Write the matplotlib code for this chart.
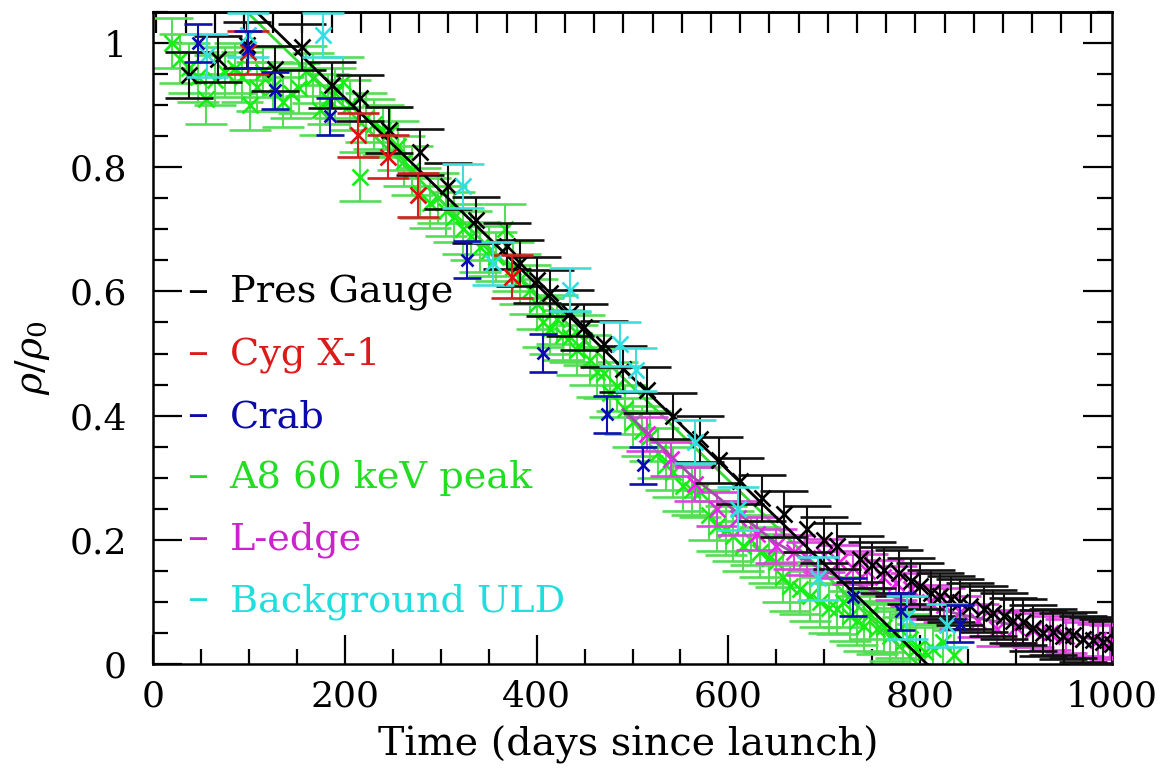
import numpy as np
import matplotlib
matplotlib.use("Agg")
import matplotlib.pyplot as plt

plt.rcParams["font.family"] = ["DejaVu Serif"]
plt.rcParams["mathtext.fontset"] = "dejavuserif"

# ---- Pressure gauge ----
gauge_t = [37, 68, 98, 127, 155, 187, 216, 246, 278, 308, 337, 369, 383, 400,
           414, 435, 449, 470, 490, 515, 542, 570, 590, 612, 635, 658, 682, 700,
           713, 737, 750, 762, 778, 790, 800, 811, 821, 832, 842, 852, 866, 876,
           887, 897, 907, 918, 928, 938, 949, 959, 970, 980, 991, 1000]
gauge_r = [0.949, 0.975, 0.997, 0.959, 0.994, 0.932, 0.911, 0.860, 0.825, 0.770,
           0.715, 0.673, 0.646, 0.619, 0.598, 0.566, 0.543, 0.515, 0.475, 0.442,
           0.399, 0.362, 0.328, 0.295, 0.268, 0.241, 0.217, 0.200, 0.190, 0.169,
           0.160, 0.152, 0.147, 0.133, 0.126, 0.115, 0.109, 0.104, 0.100, 0.093,
           0.088, 0.082, 0.077, 0.070, 0.067, 0.058, 0.050, 0.052, 0.045, 0.046,
           0.040, 0.038, 0.035, 0.032]
gauge_err = 0.037

# ---- Cyg X-1 ----
cyg_t = [99, 214, 245, 276, 374]
cyg_r = [0.985, 0.852, 0.817, 0.755, 0.624]
cyg_err = 0.035

# ---- Crab ----
crab_t = [47, 99, 127, 185, 327, 407, 473, 511, 730, 780, 842]
crab_r = [1.000, 0.990, 0.924, 0.882, 0.651, 0.501, 0.402, 0.320, 0.108, 0.085, 0.065]
crab_err = 0.03

# ---- A8 60 keV peak ----
a8_t = [20, 28, 38, 47, 55, 65, 75, 85, 93, 101, 108, 115, 125, 136, 144, 152,
        160, 167, 174, 182, 190, 198, 205, 216, 222, 230, 240, 247, 255, 262,
        270, 278, 289, 297, 305, 314, 323, 332, 341, 350, 358, 367, 375, 383,
        393, 400, 407, 414, 421, 428, 435, 442, 449, 456, 463, 470, 477, 484,
        492, 501, 510, 518, 527, 535, 542, 553, 562, 570, 580, 588, 597, 605,
        615, 624, 633, 642, 650, 657, 664, 675, 685, 696, 705, 713, 720, 727,
        734, 741, 748, 755, 762, 768, 775, 782, 789, 796, 805, 813, 824, 835]
a8_r = [1.000, 0.975, 0.960, 0.945, 0.910, 0.940, 0.953, 0.960, 0.945, 0.900,
        0.930, 0.953, 0.930, 0.905, 0.920, 0.928, 0.955, 0.944, 0.892, 0.910,
        0.920, 0.937, 0.900, 0.785, 0.880, 0.870, 0.860, 0.857, 0.835, 0.810,
        0.795, 0.758, 0.742, 0.750, 0.730, 0.720, 0.700, 0.690, 0.672, 0.665,
        0.656, 0.700, 0.640, 0.620, 0.603, 0.580, 0.550, 0.540, 0.555, 0.530,
        0.527, 0.506, 0.522, 0.490, 0.470, 0.469, 0.437, 0.447, 0.410, 0.389,
        0.375, 0.367, 0.340, 0.320, 0.309, 0.286, 0.280, 0.277, 0.240, 0.222,
        0.215, 0.206, 0.190, 0.200, 0.180, 0.170, 0.164, 0.140, 0.125, 0.120,
        0.110, 0.100, 0.090, 0.088, 0.100, 0.077, 0.070, 0.061, 0.080, 0.056,
        0.060, 0.045, 0.050, 0.035, 0.040, 0.024, 0.020, 0.024, 0.035, 0.015]
a8_err = 0.04

# ---- L-edge ----
ledge_t = [515, 540, 565, 588, 610, 630, 650, 668, 682, 700, 715, 730, 745, 761,
           775, 790, 810, 825, 842, 860, 880, 900, 918, 935, 952, 970, 985, 998]
ledge_r = [0.370, 0.330, 0.290, 0.250, 0.235, 0.210, 0.190, 0.180, 0.170, 0.175,
           0.165, 0.155, 0.150, 0.140, 0.130, 0.120, 0.100, 0.095, 0.083, 0.070,
           0.056, 0.060, 0.055, 0.050, 0.045, 0.040, 0.038, 0.035]
ledge_err = 0.027

# ---- Background ULD ----
uld_t = [56, 99, 177, 323, 355, 435, 487, 504, 565, 610, 693, 786, 828]
uld_r = [0.980, 1.013, 1.013, 0.770, 0.645, 0.603, 0.515, 0.474, 0.358, 0.250,
         0.138, 0.075, 0.062]
uld_err = 0.035

# ---- Fitted trends ----
gauge_fit_t = [108, 807]
gauge_fit_r = [1.05, 0.0]
a8_fit_t = [98, 797]
a8_fit_r = [1.05, 0.0]
ledge_fit_t = [490, 520, 560, 600, 650, 700, 750, 800, 850, 900, 950, 1000]
ledge_fit_r = [0.410, 0.365, 0.305, 0.255, 0.195, 0.150, 0.118, 0.095, 0.077,
               0.062, 0.048, 0.035]

legend_names = ["Pres Gauge", "Cyg X-1", "Crab", "A8 60 keV peak", "L-edge",
                "Background ULD"]
legend_colors = ["#000000", "#dd1a1a", "#0a0aaa", "#22dd22", "#cc22cc", "#22dddd"]

x_ticks = [0, 200, 400, 600, 800, 1000]
y_ticks = [0, 0.2, 0.4, 0.6, 0.8, 1.0]
y_tick_labels = ["0", "0.2", "0.4", "0.6", "0.8", "1"]

fig = plt.figure(figsize=(11.61, 7.70), dpi=100)
ax = fig.add_axes([0.1318, 0.1377, 0.8260, 0.8467])


def series(t, r, err, mcol, ecol, cap=16, ms=12, z=3):
    ax.errorbar(t, r, yerr=err, fmt="x", color=mcol, ecolor=ecol,
                elinewidth=1.5, capsize=cap, capthick=1.5, ms=ms, mew=1.9,
                zorder=z)


series(a8_t, a8_r, a8_err, "#14f014", "#55dd55", cap=15, z=2)
ax.plot(a8_fit_t, a8_fit_r, color="#33dd33", lw=2.0, zorder=2.5)
series(ledge_t, ledge_r, ledge_err, "#ee22ee", "#dd44dd", cap=15, z=3)
ax.plot(ledge_fit_t, ledge_fit_r, color="#a050a8", lw=2.0, zorder=3.5)
series(gauge_t, gauge_r, gauge_err, "#000000", "#111111", cap=17, z=4)
ax.plot(gauge_fit_t, gauge_fit_r, color="#000000", lw=2.0, zorder=4.5)
series(cyg_t, cyg_r, cyg_err, "#e01010", "#d02020", cap=15, z=5)
series(uld_t, uld_r, uld_err, "#30e0e0", "#40dddd", cap=15, z=5)
series(crab_t, crab_r, crab_err, "#0a0ab4", "#1010b0", cap=10, ms=9, z=6)

ax.set_xlim(0, 1000)
ax.set_ylim(0, 1.05)

ax.set_xticks(x_ticks)
ax.set_xticks(np.arange(0, 1001, 50), minor=True)
ax.set_yticks(y_ticks)
ax.set_yticklabels(y_tick_labels)
ax.set_yticks(np.arange(0, 1.051, 0.05), minor=True)

ax.tick_params(which="major", direction="in", length=21, width=1.6,
               labelsize=26, bottom=True, left=True, right=True, top=False)
ax.tick_params(which="minor", direction="in", length=10.5, width=1.6,
               bottom=True, left=True, right=True, top=False)
ax.tick_params(axis="x", which="major", pad=11)
ax.tick_params(axis="y", which="major", pad=19)

# monthly ticks along the top edge
top = ax.secondary_xaxis("top")
top.set_xticks(np.arange(3.5, 1000, 30.44))
top.tick_params(direction="in", length=15, width=1.6, labeltop=False)
top.xaxis.set_minor_locator(matplotlib.ticker.NullLocator())

for s in ax.spines.values():
    s.set_linewidth(1.8)
top.spines["top"].set_linewidth(1.8)

# colour-coded legend
baselines = [0.554, 0.459, 0.363, 0.270, 0.175, 0.081]
for name, col, yb in zip(legend_names, legend_colors, baselines):
    ax.text(0.036, yb, "\u2013", color=col, fontsize=30, transform=ax.transAxes,
            va="baseline", ha="left")
    ax.text(0.080, yb, name, color=col, fontsize=27.5, transform=ax.transAxes,
            va="baseline", ha="left")

fig.text(628 / 1161, 1 - 745 / 770, "Time (days since launch)", fontsize=28.5,
         ha="center", va="center")
fig.text(32 / 1161, 1 - 358 / 770, r"$\rho/\rho_0$", fontsize=27,
         rotation=90, ha="center", va="center")

fig.savefig("out.png", dpi=100)
